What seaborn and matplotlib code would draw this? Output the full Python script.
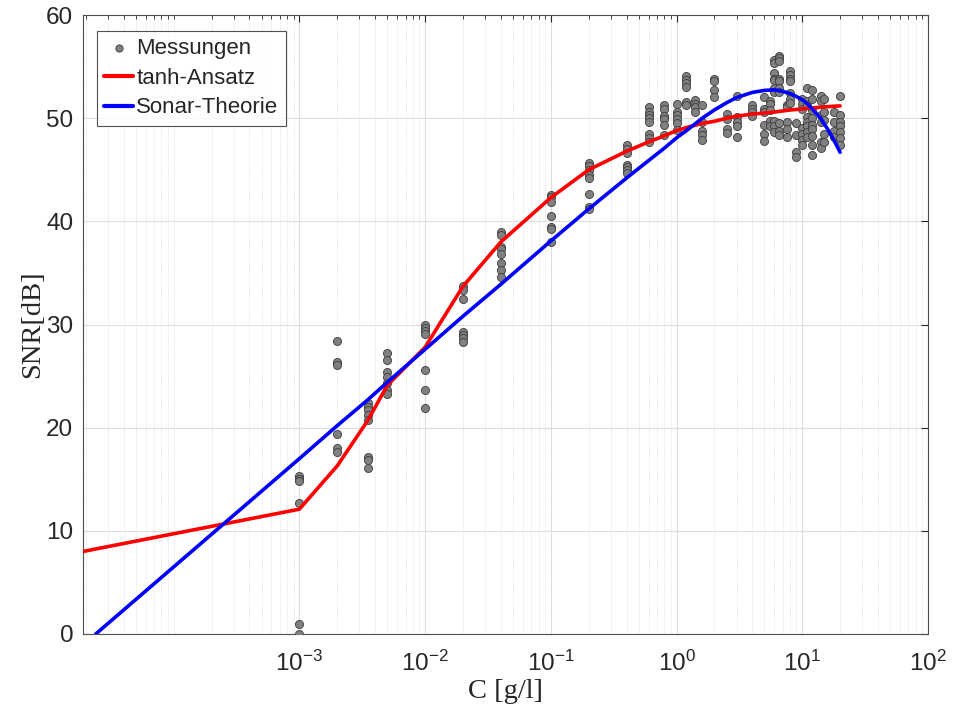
import numpy as np
import pandas as pd
import seaborn as sns
import matplotlib
matplotlib.use("Agg")
import matplotlib.pyplot as plt
from matplotlib.ticker import LogLocator, LogFormatterSciNotation, NullFormatter

# measured SNR, one list per concentration column [g/l]
meas_conc = [1e-3, 2e-3, 3.5e-3, 5e-3, 1e-2, 2e-2, 4e-2, 0.1, 0.2, 0.4,
             0.6, 0.8, 1.0, 1.2, 1.4, 1.6, 2.0, 2.5, 3.0, 4.0, 5.0, 5.5,
             6.0, 6.5, 7.5, 8.0, 9.0, 10.0, 11.0, 12.0, 14.0, 15.0, 18.0, 20.0]
meas_snr = [
    [15.3, 15.0, 14.8, 12.7, 1.0, 0.0],
    [28.4, 26.4, 26.1, 19.4, 18.0, 17.6],
    [22.4, 22.0, 21.7, 21.2, 20.7, 17.2, 16.9, 16.1],
    [27.2, 26.6, 25.4, 24.9, 24.3, 23.7, 23.3],
    [30.0, 29.7, 29.4, 29.1, 25.6, 23.7, 21.9],
    [33.7, 33.3, 32.5, 29.3, 29.0, 28.7, 28.3],
    [39.0, 38.7, 37.5, 37.3, 36.8, 36.0, 35.3, 34.6],
    [42.6, 42.4, 41.9, 40.5, 39.5, 39.3, 38.0],
    [45.7, 45.4, 45.0, 44.5, 44.2, 42.7, 41.4, 41.2],
    [47.4, 47.0, 46.6, 45.5, 45.3, 45.0, 44.7],
    [51.1, 50.6, 50.3, 50.0, 49.6, 48.5, 48.1, 47.7],
    [51.3, 50.9, 50.2, 49.9, 49.3, 48.4],
    [51.4, 50.6, 50.3, 49.9, 49.5, 48.9],
    [54.1, 53.7, 53.4, 53.0, 51.6, 51.3],
    [51.8, 51.4, 51.1, 50.6],
    [51.3, 49.6, 48.8, 48.4, 47.9],
    [53.8, 53.6, 52.7, 52.1],
    [50.4, 49.9, 49.0, 48.6],
    [52.2, 50.1, 49.6, 49.2, 48.2],
    [51.3, 50.9, 50.6, 50.2],
    [52.1, 50.9, 50.6, 49.3, 48.5, 47.8],
    [51.7, 51.4, 50.8, 49.7, 49.2],
    [55.6, 55.4, 54.4, 53.8, 53.7, 52.9, 52.5, 49.7, 49.2, 48.7],
    [56.0, 55.8, 55.5, 53.8, 53.6, 52.9, 52.5, 49.5, 48.8, 48.4],
    [51.3, 51.1, 49.6, 49.0, 48.2],
    [54.6, 54.2, 53.8, 53.6, 52.4, 51.9, 51.5],
    [49.5, 48.4, 46.7, 46.2],
    [51.9, 51.4, 50.9, 49.1, 48.5, 47.9, 47.4],
    [52.9, 51.7, 51.3, 50.1, 49.6, 49.2, 48.7, 48.2],
    [52.7, 51.9, 50.8, 50.0, 49.3, 49.0, 48.3, 47.4, 46.4],
    [52.2, 51.7, 50.3, 49.6, 47.7, 47.1],
    [51.9, 50.6, 49.8, 48.5, 47.7],
    [50.6, 49.6, 48.8, 48.2],
    [52.2, 50.3, 49.6, 49.2, 48.7, 48.1, 47.4],
]

# tanh fit
tanh_conc = [1.9e-5, 1e-3, 2e-3, 3.5e-3, 5e-3, 1e-2, 2e-2, 4e-2, 0.1, 0.2, 0.4,
             0.6, 0.8, 1.0, 1.2, 1.6, 2.0, 2.5, 3.0, 4.0, 5.0, 6.0, 8.0,
             10.0, 12.0, 15.0, 20.0]
tanh_snr = [8.0, 12.1, 16.3, 20.7, 24.1, 27.8, 33.7, 38.0, 42.3, 45.0, 46.8,
            47.7, 48.3, 48.8, 49.1, 49.5, 49.7, 50.0, 50.2, 50.4, 50.5, 50.6,
            50.8, 50.9, 51.0, 51.1, 51.2]

# sonar theory
sonar_conc = [2.4e-5, 1e-3, 2e-3, 3.5e-3, 5e-3, 1e-2, 2e-2, 4e-2, 0.1, 0.2,
              0.4, 0.6, 0.8, 1.0, 1.2, 1.6, 2.0, 2.5, 3.0, 4.0, 5.0, 6.0,
              7.0, 8.0, 9.0, 10.0, 11.0, 12.0, 14.0, 16.0, 18.0, 20.0]
sonar_snr = [0.0, 17.0, 20.2, 22.7, 24.4, 27.6, 30.8, 33.9, 38.1, 41.2, 44.2,
             45.9, 47.1, 48.1, 48.8, 50.0, 50.8, 51.5, 52.0, 52.5, 52.7, 52.75,
             52.6, 52.4, 52.1, 51.8, 51.4, 50.9, 50.0, 48.9, 47.8, 46.7]

meas = pd.DataFrame({
    "C": np.repeat(meas_conc, [len(v) for v in meas_snr]),
    "SNR": np.concatenate(meas_snr),
})
fit = pd.DataFrame({"C": tanh_conc, "SNR": tanh_snr})
theory = pd.DataFrame({"C": sonar_conc, "SNR": sonar_snr})

sns.set_style("white")
plt.rcParams["font.family"] = ["Liberation Sans", "DejaVu Sans"]
plt.rcParams["mathtext.fontset"] = "custom"
plt.rcParams["mathtext.rm"] = "Liberation Sans"
plt.rcParams["mathtext.default"] = "regular"

fig = plt.figure(figsize=(9.54, 7.18), dpi=100)
ax = fig.add_axes([0.087, 0.117, 0.8857, 0.862])

sns.scatterplot(data=meas, x="C", y="SNR", ax=ax, color="#808080",
                edgecolor="#3c3c3c", linewidth=0.6, s=34, zorder=3,
                label="Messungen")
sns.lineplot(data=fit, x="C", y="SNR", ax=ax, color="red", lw=2.6,
             sort=False, estimator=None, zorder=4, label="tanh-Ansatz")
sns.lineplot(data=theory, x="C", y="SNR", ax=ax, color="blue", lw=2.6,
             sort=False, estimator=None, zorder=4, label="Sonar-Theorie")

ax.set_xscale("log")
ax.set_xlim(1.9e-5, 100)
ax.set_ylim(0, 60)
ax.set_xticks([1e-3, 1e-2, 1e-1, 1e0, 1e1, 1e2])
ax.xaxis.set_major_formatter(LogFormatterSciNotation())
ax.xaxis.set_minor_locator(LogLocator(base=10, subs=np.arange(1, 10), numticks=50))
ax.xaxis.set_minor_formatter(NullFormatter())
ax.set_yticks(range(0, 61, 10))

ax.grid(True, which="major", color="#dedede", lw=0.8, ls="-")
ax.grid(True, which="minor", axis="x", color="#cfcfcf", lw=0.5, ls=":")
ax.set_axisbelow(True)

ax.tick_params(which="both", direction="in", top=True, right=True,
               colors="#262626", labelsize=17.5)
ax.tick_params(which="major", length=5, width=0.8)
ax.tick_params(which="minor", length=3, width=0.6)
ax.tick_params(axis="x", pad=12)
ax.tick_params(axis="y", pad=7)
for sp in ax.spines.values():
    sp.set_color("#4d4d4d")
    sp.set_linewidth(0.8)

ax.set_xlabel("C [g/l]", family="Liberation Serif", fontsize=20.5,
              color="#262626", labelpad=2)
ax.set_ylabel("SNR[dB]", family="Liberation Serif", fontsize=20.5,
              color="#262626", labelpad=1)

leg = ax.legend(loc="upper left", bbox_to_anchor=(0.016, 0.975), fontsize=16,
                frameon=True, fancybox=False, edgecolor="#262626",
                borderpad=0.34, handlelength=1.3, handletextpad=0.15,
                labelspacing=0.39, borderaxespad=0, markerscale=0.9)
leg.get_frame().set_linewidth(0.8)
for h in leg.get_lines():
    h.set_linewidth(3)

fig.savefig("out.png", dpi=100)
